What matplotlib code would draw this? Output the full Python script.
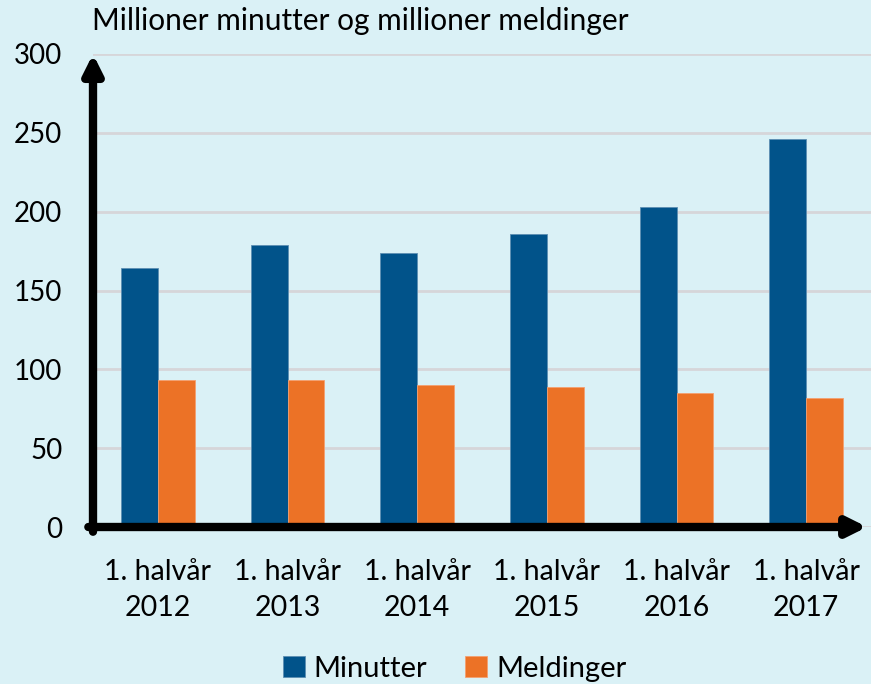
import matplotlib.pyplot as plt
import numpy as np

plt.rcParams['font.family'] = ['Lato', 'DejaVu Sans']

# data
years = ['2012', '2013', '2014', '2015', '2016', '2017']
tick_labels = ['1. halvår\n' + y for y in years]
minutter = [164, 179, 174, 186, 203, 246]
meldinger = [93, 93, 90, 89, 85, 82]

bg = '#daf1f6'
blue = '#01538a'
orange = '#ec7226'

fig = plt.figure(figsize=(8.71, 6.84), dpi=100, facecolor=bg)
ax = fig.add_axes([93 / 871, 157 / 684, 778 / 871, 473 / 684], facecolor=bg)

x = np.arange(len(years))
w = 0.285
ax.bar(x - w / 2, minutter, w, color=blue, edgecolor='#5d8fb3', lw=0.6,
       label='Minutter', zorder=2)
ax.bar(x + w / 2, meldinger, w, color=orange, edgecolor='#f4a070', lw=0.6,
       label='Meldinger', zorder=2)

ax.set_xlim(-0.5, 5.5)
ax.set_ylim(0, 300)
ax.set_yticks(range(0, 301, 50))
ax.yaxis.grid(True, color='#d6d6d9', lw=2, zorder=0)
ax.set_axisbelow(True)
for s in ax.spines.values():
    s.set_visible(False)

ax.set_xticks(x)
ax.set_xticklabels(tick_labels, fontsize=20.5, linespacing=1.5)
ax.tick_params(axis='x', length=0, pad=23)
ax.tick_params(axis='y', length=0, pad=22, labelsize=20)

# axis arrows
ax.annotate('', xy=(0, 1.0), xytext=(0, -0.01), xycoords='axes fraction',
            arrowprops=dict(arrowstyle='-|>', lw=6, color='black',
                            mutation_scale=28, shrinkA=0, shrinkB=0),
            annotation_clip=False, zorder=5)
ax.annotate('', xy=(0.995, 0), xytext=(-0.006, 0), xycoords='axes fraction',
            arrowprops=dict(arrowstyle='-|>', lw=6, color='black',
                            mutation_scale=28, shrinkA=0, shrinkB=0),
            annotation_clip=False, zorder=5)

fig.text(92 / 871, 1 - 7 / 684, 'Millioner minutter og millioner meldinger',
         fontsize=21.5, va='top', ha='left')

fig.legend(loc='center', bbox_to_anchor=(0.522, 0.022), ncol=2, frameon=False,
           fontsize=21, handlelength=0.75, handleheight=0.75,
           handletextpad=0.3, columnspacing=1.3)

fig.savefig('out.png', dpi=100, facecolor=bg)
